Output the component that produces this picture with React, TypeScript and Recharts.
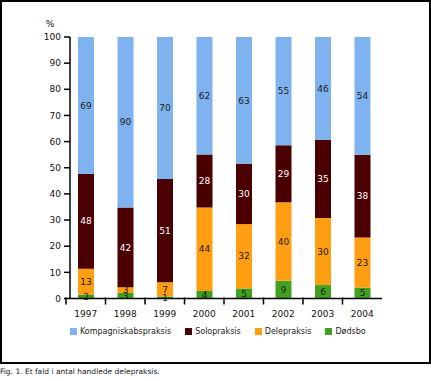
import { BarChart, Bar, XAxis, YAxis, LabelList } from "recharts"

const years = ["1997", "1998", "1999", "2000", "2001", "2002", "2003", "2004"]
const kompagni = [69, 90, 70, 62, 63, 55, 46, 54]
const solo = [48, 42, 51, 28, 30, 29, 35, 38]
const dele = [13, 3, 7, 44, 32, 40, 30, 23]
const doedsbo = [2, 3, 1, 4, 5, 9, 6, 5]
const yTicks = [0, 0.1, 0.2, 0.3, 0.4, 0.5, 0.6, 0.7, 0.8, 0.9, 1]

const series = [
  { key: "doedsbo", name: "Dødsbo", color: "#41a11e", text: "#1a1a1a" },
  { key: "dele", name: "Delepraksis", color: "#ff9e12", text: "#1a1a1a" },
  { key: "solo", name: "Solopraksis", color: "#4a0000", text: "#ffffff" },
  { key: "kompagni", name: "Kompagniskabspraksis", color: "#7fb3ef", text: "#1a1a1a" },
]

const data = years.map((year, i) => ({
  year,
  kompagni: kompagni[i],
  solo: solo[i],
  dele: dele[i],
  doedsbo: doedsbo[i],
}))

const FONT = "'DejaVu Sans', sans-serif"
const BAND = 316 / years.length

// year label centred in the band, tick mark on the band's left edge
const YearTick = (props: any) => {
  const { x, y, payload } = props
  const left = x - BAND / 2
  return (
    <g>
      <line x1={left} x2={left} y1={y - 1} y2={y + 6} stroke="#000" strokeWidth={1.5} />
      <text x={x} y={y + 18} textAnchor="middle" fontSize={9} fontFamily={FONT} fill="#111">
        {payload.value}
      </text>
    </g>
  )
}

const legendOrder = [...series].reverse()

export default function App() {
  return (
    <div style={{ position: "absolute", left: 0, top: 0, width: 431, height: 381, background: "#fff" }}>
      <div
        style={{
          position: "absolute",
          left: 0,
          top: 0,
          width: 431,
          height: 364,
          border: "2px solid #000",
          boxSizing: "border-box",
        }}
      />
      <div style={{ position: "absolute", left: 0, top: 0 }}>
        <BarChart
          width={431}
          height={325}
          data={data}
          stackOffset="expand"
          barSize={16}
          margin={{ top: 37, right: 49, bottom: 6.5, left: 30 }}
        >
          <XAxis
            dataKey="year"
            height={20}
            padding={{ left: -4, right: 0 }}
            tick={<YearTick />}
            tickLine={false}
            tickSize={0}
            tickMargin={0}
            axisLine={{ stroke: "#000", strokeWidth: 1.5 }}
            interval={0}
          />
          <YAxis
            width={40}
            domain={[0, 1]}
            ticks={yTicks}
            tickFormatter={(v: number) => String(Math.round(v * 100))}
            tick={{ fontSize: 9, fontFamily: FONT, fill: "#111" }}
            tickSize={6}
            tickMargin={3}
            tickLine={{ stroke: "#000", strokeWidth: 1.5 }}
            axisLine={{ stroke: "#000", strokeWidth: 1.5 }}
            label={{ value: "%", position: "top", offset: 10, fontSize: 9, fontFamily: FONT, fill: "#111" }}
          />
          {series.map((s) => (
            <Bar key={s.key} dataKey={s.key} name={s.name} stackId="a" fill={s.color} isAnimationActive={false}>
              <LabelList
                dataKey={s.key}
                position="center"
                fill={s.text}
                fontSize={9}
                fontFamily={FONT}
              />
            </Bar>
          ))}
        </BarChart>
      </div>
      <div
        style={{
          position: "absolute",
          left: 70,
          top: 327,
          display: "flex",
          alignItems: "center",
          fontFamily: FONT,
          fontSize: 8,
          color: "#222",
        }}
      >
        {legendOrder.map((s) => (
          <div key={s.key} style={{ display: "flex", alignItems: "center", marginRight: 14 }}>
            <span style={{ width: 7, height: 7, background: s.color, display: "inline-block", marginRight: 3 }} />
            <span>{s.name}</span>
          </div>
        ))}
      </div>
      <div
        style={{
          position: "absolute",
          left: 0,
          top: 367,
          fontFamily: FONT,
          fontSize: 7.5,
          color: "#222",
          whiteSpace: "nowrap",
        }}
      >
        Fig. 1. Et fald i antal handlede delepraksis.
      </div>
    </div>
  )
}
